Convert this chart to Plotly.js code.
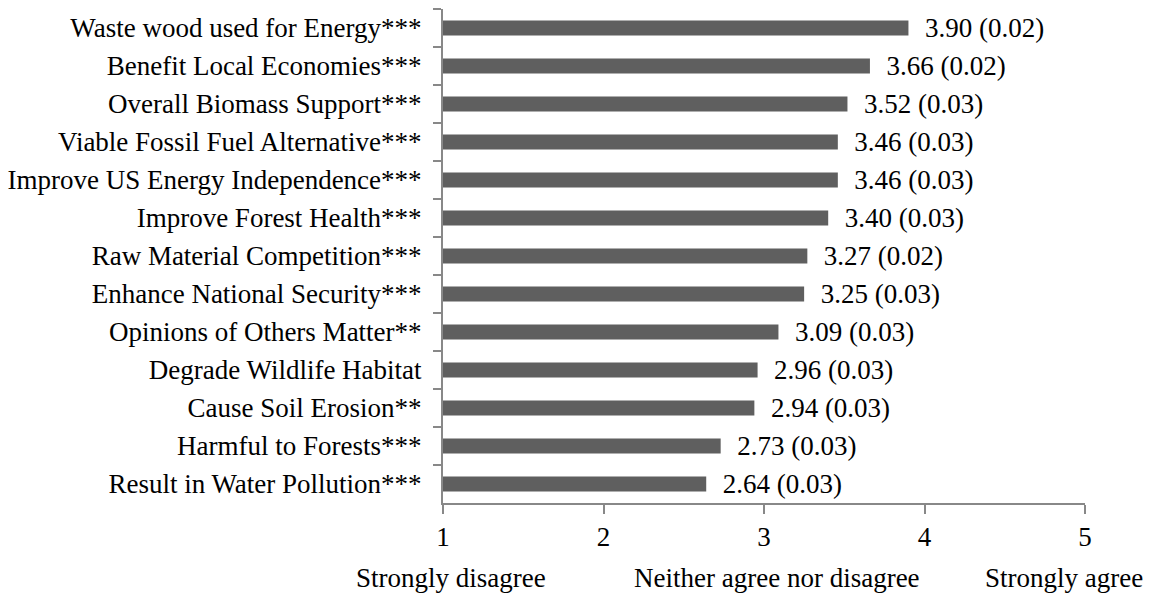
<!DOCTYPE html>
<html><head><meta charset="utf-8">
<script src="https://cdn.plot.ly/plotly-3.0.1.min.js"></script>
<style>body{margin:0;background:#fff}#chart{width:1150px;height:596px}</style>
</head><body><div id="chart"></div>
<script>
const categories = [
  "Waste wood used for Energy***",
  "Benefit Local Economies***",
  "Overall Biomass Support***",
  "Viable Fossil Fuel Alternative***",
  "Improve US Energy Independence***",
  "Improve Forest Health***",
  "Raw Material Competition***",
  "Enhance National Security***",
  "Opinions of Others Matter**",
  "Degrade Wildlife Habitat",
  "Cause Soil Erosion**",
  "Harmful to Forests***",
  "Result in Water Pollution***"
];
const means = [3.90, 3.66, 3.52, 3.46, 3.46, 3.40, 3.27, 3.25, 3.09, 2.96, 2.94, 2.73, 2.64];
const stdErrors = [0.02, 0.02, 0.03, 0.03, 0.03, 0.03, 0.02, 0.03, 0.03, 0.03, 0.03, 0.03, 0.03];
const xTickVals = [1, 2, 3, 4, 5];
const scaleLabels = ["Strongly disagree", "Neither agree nor disagree", "Strongly agree"];

const font = "'Liberation Serif', 'Times New Roman', serif";
const FS = 27;
const labels = means.map((m, i) => "\u00a0\u00a0" + m.toFixed(2) + " (" + stdErrors[i].toFixed(2) + ")");

const trace = {
  type: "bar", orientation: "h",
  x: means, y: categories,
  marker: {color: "#5f5f5f"},
  text: labels, textposition: "outside", cliponaxis: false, constraintext: "none",
  textfont: {family: font, size: FS, color: "#000"},
  hoverinfo: "skip"
};

const layout = {
  width: 1150, height: 596,
  margin: {l: 443, r: 65, t: 9, b: 93},
  paper_bgcolor: "#fff", plot_bgcolor: "#fff",
  bargap: 0.6, showlegend: false,
  font: {family: font, size: FS, color: "#000"},
  xaxis: {
    range: [1, 5], tickvals: xTickVals, ticktext: xTickVals.map(String),
    showgrid: false, zeroline: false, showline: true, linecolor: "#888", linewidth: 2,
    ticks: "outside", ticklen: 9, tickcolor: "#888", tickwidth: 2,
    ticklabelstandoff: 0,
    tickfont: {family: font, size: FS, color: "#000"}, fixedrange: true
  },
  yaxis: {
    type: "category", autorange: "reversed",
    showgrid: false, zeroline: false, showline: true, linecolor: "#888", linewidth: 2,
    ticks: "outside", ticklen: 8, tickcolor: "#888", tickwidth: 2, tickson: "boundaries",
    ticklabelstandoff: 14,
    tickfont: {family: font, size: FS, color: "#000"}, fixedrange: true
  },
  annotations: [
    {text: scaleLabels[0], x: 354, y: 578},
    {text: scaleLabels[1], x: 632, y: 578},
    {text: scaleLabels[2], x: 983, y: 578}
  ].map(a => ({text: a.text, xref: "paper", yref: "paper",
    x: (a.x - 443) / (1150 - 443 - 65), y: (596 - 93 - a.y) / (596 - 9 - 93),
    xanchor: "left", yanchor: "middle", showarrow: false,
    font: {family: font, size: FS, color: "#000"}}))
};

Plotly.newPlot("chart", [trace], layout, {displayModeBar: false, staticPlot: true});
</script></body></html>
